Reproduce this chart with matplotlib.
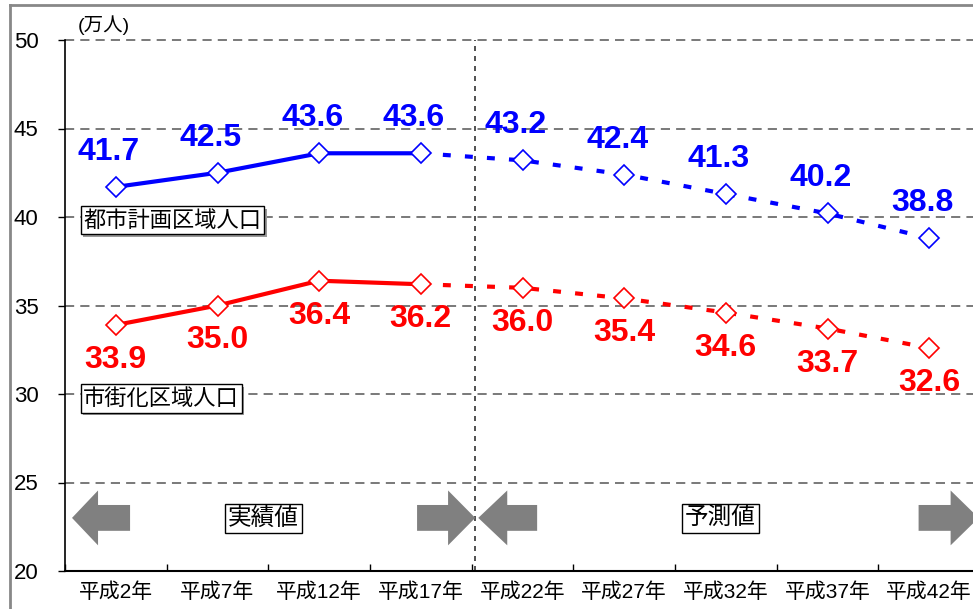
import matplotlib
matplotlib.use("Agg")
import matplotlib.pyplot as plt
from matplotlib import patheffects
from matplotlib.lines import Line2D
from matplotlib.patches import Polygon

years = ["平成2年", "平成7年", "平成12年", "平成17年", "平成22年",
         "平成27年", "平成32年", "平成37年", "平成42年"]
toshi = [41.7, 42.5, 43.6, 43.6, 43.2, 42.4, 41.3, 40.2, 38.8]   # 都市計画区域人口
shigai = [33.9, 35.0, 36.4, 36.2, 36.0, 35.4, 34.6, 33.7, 32.6]  # 市街化区域人口
n_actual = 4  # 平成2年〜平成17年 が実績値

plt.rcParams["font.family"] = ["Liberation Sans", "Noto Sans CJK JP", "DejaVu Sans"]

fig = plt.figure(figsize=(9.73, 6.09), dpi=100)
ax = fig.add_axes([65 / 973, 38 / 609, 915 / 973, 531 / 609])
x = list(range(len(years)))

ax.set_xlim(-0.5, len(years) - 0.5)
ax.set_ylim(20, 50)
ax.set_yticks(range(20, 51, 5))
ax.set_xticks(x)
ax.set_xticklabels(years, fontsize=15)
ax.set_xticks([i - 0.5 for i in range(len(years) + 1)], minor=True)
ax.tick_params(axis="x", which="major", length=0, pad=8)
ax.tick_params(axis="x", which="minor", direction="in", length=5, width=1)
ax.tick_params(axis="y", direction="out", length=5, width=1, labelsize=16, pad=14)
for s in ("top", "right"):
    ax.spines[s].set_visible(False)
ax.spines["left"].set_linewidth(1.2)
ax.spines["bottom"].set_linewidth(1.5)
for v in range(25, 51, 5):
    ax.axhline(v, color="#555555", lw=1.1, ls=(0, (6, 4)), zorder=1, clip_on=False)
ax.axvline(3.535, color="#333333", lw=1.2, ls=(0, (3, 3)), zorder=1)


def draw_series(vals, color, dx, dy):
    ax.plot(x[:n_actual], vals[:n_actual], color=color, lw=3, zorder=3,
            solid_capstyle="butt")
    ax.plot(x[n_actual - 1:], vals[n_actual - 1:], color=color, lw=3, zorder=3,
            ls=(0, (1.9, 3.4)), dash_capstyle="butt")
    ax.plot(x, vals, ls="none", marker="D", ms=10, mfc="white", mec=color,
            mew=1.2, zorder=4)
    for xi, v in zip(x, vals):
        ax.annotate(f"{v:.1f}", (xi, v), xytext=(dx, dy),
                    textcoords="offset pixels", ha="center", va="center",
                    fontsize=23, fontweight="bold", color=color, zorder=5)


draw_series(toshi, "#0000FF", -7, 35)
draw_series(shigai, "#FF0000", 0, -35)


def boxed(xp, yp, label, size, ha="center", shadow=False):
    t = ax.text(xp, yp, label, fontsize=size, ha=ha, va="center", zorder=6,
                family=["Noto Sans CJK JP", "DejaVu Sans"],
                bbox=dict(boxstyle="square,pad=0.12", fc="white", ec="black", lw=1))
    if shadow:
        t.get_bbox_patch().set_path_effects([
            patheffects.withSimplePatchShadow(offset=(2, -2), shadow_rgbFace="#999999",
                                              alpha=1.0)])
    return t


boxed(-0.32, 39.83, "都市計画区域人口", 16, ha="left", shadow=True)
boxed(-0.32, 29.75, "市街化区域人口", 16, ha="left", shadow=True)
boxed(1.454, 22.95, "実績値", 17)
boxed(5.947, 22.95, "予測値", 17)


def block_arrow(tail, base, tip, yc=23.0, body=0.73, head=1.55):
    pts = [(tail, yc - body), (base, yc - body), (base, yc - head), (tip, yc),
           (base, yc + head), (base, yc + body), (tail, yc + body)]
    ax.add_patch(Polygon(pts, closed=True, fc="#808080", ec="none", zorder=2,
                         clip_on=False))


block_arrow(0.140, -0.175, -0.431)
block_arrow(2.963, 3.268, 3.535)
block_arrow(4.144, 3.850, 3.565)
block_arrow(7.896, 8.211, 8.487)

fig.text(78 / 973, 1 - 25 / 609, "(万人)", fontsize=14, ha="left", va="center")

# outer frame
fig.add_artist(Line2D([10 / 973, 10 / 973], [0, 1 - 5 / 609], color="#888888", lw=2))
fig.add_artist(Line2D([10 / 973, 1], [1 - 5 / 609, 1 - 5 / 609], color="#888888", lw=2))

fig.savefig("out.png", dpi=100)
